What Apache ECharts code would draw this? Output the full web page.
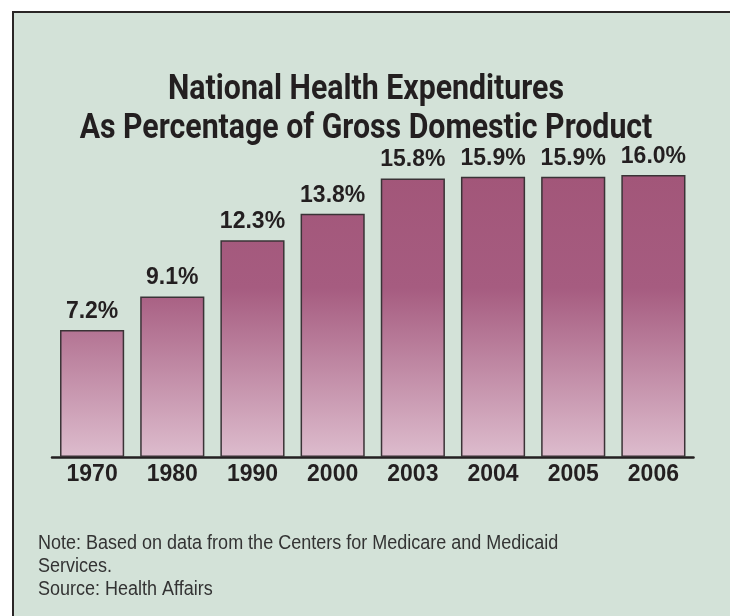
<!DOCTYPE html>
<html>
<head>
<meta charset="utf-8">
<style>
html,body{margin:0;padding:0;background:#ffffff;}
#chart{width:730px;height:616px;}
</style>
<script src="https://cdn.jsdelivr.net/npm/echarts@6/dist/echarts.min.js"></script>
</head>
<body>
<div id="chart"></div>
<script>
var years = ['1970','1980','1990','2000','2003','2004','2005','2006'];
var pctGDP = [7.2, 9.1, 12.3, 13.8, 15.8, 15.9, 15.9, 16.0];
var titleLines = ['National Health Expenditures', 'As Percentage of Gross Domestic Product'];
var noteLines = ['Note: Based on data from the Centers for Medicare and Medicaid', 'Services.', 'Source: Health Affairs'];

var chart = echarts.init(document.getElementById('chart'), null, {renderer:'canvas'});
var barGrad = new echarts.graphic.LinearGradient(0, 175, 0, 457, [
  {offset:0, color:'#a25679'},
  {offset:0.4, color:'#a65c80'},
  {offset:1, color:'#ddbccd'}
], true);

chart.setOption({
  animation:false,
  backgroundColor:'#ffffff',
  graphic:[
    {type:'rect', z:-10, shape:{x:13, y:12, width:740, height:640}, style:{fill:'#d3e2d8', stroke:'#2a2626', lineWidth:2}},
    {type:'text', x:366, y:71, scaleX:0.865, style:{text:titleLines.join('\n'), font:'bold 35px "Roboto", "Liberation Sans", sans-serif', fill:'#231f20', textAlign:'center', textVerticalAlign:'top', lineHeight:39}},
    {type:'text', x:38, y:532, scaleX:0.9, style:{text:noteLines.join('\n'), font:'20px "Liberation Sans", "Noto Sans", sans-serif', fill:'#333333', lineHeight:23}}
  ],
  grid:{left:52, right:36.5, top:175, bottom:159},
  xAxis:{
    type:'category', data:years,
    axisLine:{show:true, lineStyle:{color:'#231f20', width:2.5}},
    axisTick:{show:false},
    axisLabel:{color:'#231f20', fontSize:23, fontWeight:'bold', fontFamily:'"Liberation Sans", Arial, sans-serif', margin:6}
  },
  yAxis:{type:'value', min:0, max:16, show:false, splitLine:{show:false}},
  series:[{
    type:'bar', data:pctGDP, barCategoryGap:'20%',
    itemStyle:{color:barGrad, borderColor:'#3a3336', borderWidth:1.5},
    label:{show:true, position:'top', distance:7, color:'#231f20', fontSize:23, fontWeight:'bold', fontFamily:'"Liberation Sans", Arial, sans-serif',
      formatter:function(p){return p.value.toFixed(1)+'%';}}
  }]
});
</script>
</body>
</html>
